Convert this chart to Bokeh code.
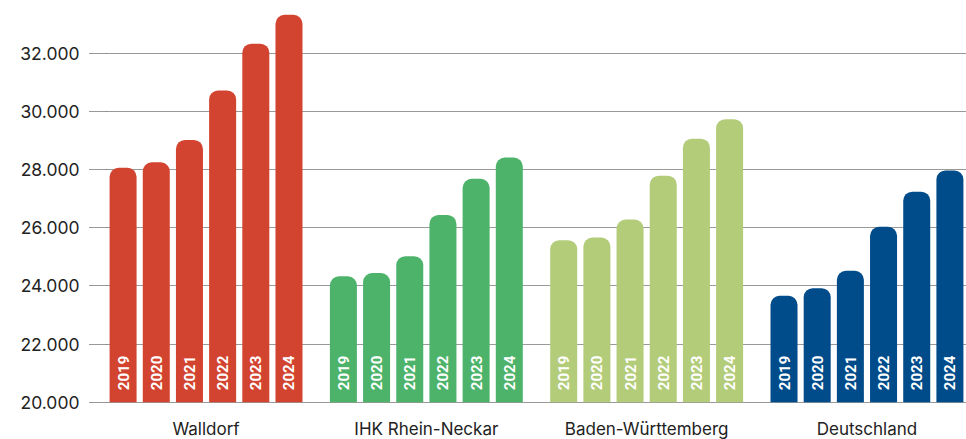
import math
from bokeh.plotting import figure
from bokeh.models import FactorRange, Range1d, FixedTicker, ColumnDataSource
from bokeh.core.properties import value
from bokeh.embed import file_html
from bokeh.resources import INLINE

# ---- data ----
regions = ["Walldorf", "IHK Rhein-Neckar", "Baden-Württemberg", "Deutschland"]
years = ["2019", "2020", "2021", "2022", "2023", "2024"]
walldorf = [28060, 28250, 29020, 30720, 32330, 33320]
ihk_rhein_neckar = [24330, 24440, 25020, 26440, 27680, 28410]
baden_wuerttemberg = [25570, 25660, 26280, 27790, 29060, 29730]
deutschland = [23660, 23920, 24520, 26030, 27240, 27970]
y_ticks = [20000, 22000, 24000, 26000, 28000, 30000, 32000]

series = [walldorf, ihk_rhein_neckar, baden_wuerttemberg, deutschland]
colors = {"Walldorf": "#D34430", "IHK Rhein-Neckar": "#4DB36A",
          "Baden-Württemberg": "#B3CC7A", "Deutschland": "#004B8A"}
base = y_ticks[0]

xs, tops, cols, labels = [], [], [], []
for reg, vals in zip(regions, series):
    for yr, v in zip(years, vals):
        xs.append((reg, yr))
        tops.append(v)
        cols.append(colors[reg])
        labels.append(yr)
src = ColumnDataSource(dict(x=xs, top=tops, color=cols, label=labels,
                            bottom=[base] * len(xs)))

x_range = FactorRange(*xs, group_padding=0.64, range_padding=0, factor_padding=0)

p = figure(width=966, height=439, x_range=x_range,
           y_range=Range1d(18717, 33813),
           output_backend="svg", toolbar_location=None, title=None,
           x_axis_location=None, min_border_left=106, min_border_right=0,
           min_border_top=0, min_border_bottom=0)
p.outline_line_color = None
p.background_fill_color = "white"

p.vbar(x="x", top="top", bottom="bottom", width=0.814, source=src,
       fill_color="color", line_color=None, border_radius=(9, 9, 0, 0))

# years inside bars
p.text(x="x", y="bottom", text="label", source=src, angle=math.pi / 2,
       text_align="left", text_baseline="middle", y_offset=-12,
       text_color="white", text_font=value("Roboto"), text_font_style="bold",
       text_font_size="15px")

# region labels
p.text(x=regions, y=[base] * len(regions), text=regions,
       text_align="center", text_baseline="middle", y_offset=27,
       text_color="#222222", text_font=value("Inter"), text_font_size="17px")

# grid and axis
p.xgrid.visible = False
p.ygrid.ticker = FixedTicker(ticks=y_ticks)
p.ygrid.grid_line_color = "#333333"
p.ygrid.grid_line_dash = "1 1"
p.ygrid.grid_line_width = 1

ax = p.yaxis[0]
ax.ticker = FixedTicker(ticks=y_ticks)
ax.major_label_overrides = {t: f"{t:,}".replace(",", ".") for t in y_ticks}
ax.axis_line_color = None
ax.minor_tick_line_color = None
ax.major_tick_in = 0
ax.major_tick_out = 17
ax.major_tick_line_color = "#333333"
ax.major_tick_line_dash = "1 1"
ax.major_label_standoff = 10
ax.major_label_text_font = "Inter"
ax.major_label_text_font_size = "17.5px"
ax.major_label_text_color = "#222222"

open("out.html", "w").write(file_html(p, INLINE))
